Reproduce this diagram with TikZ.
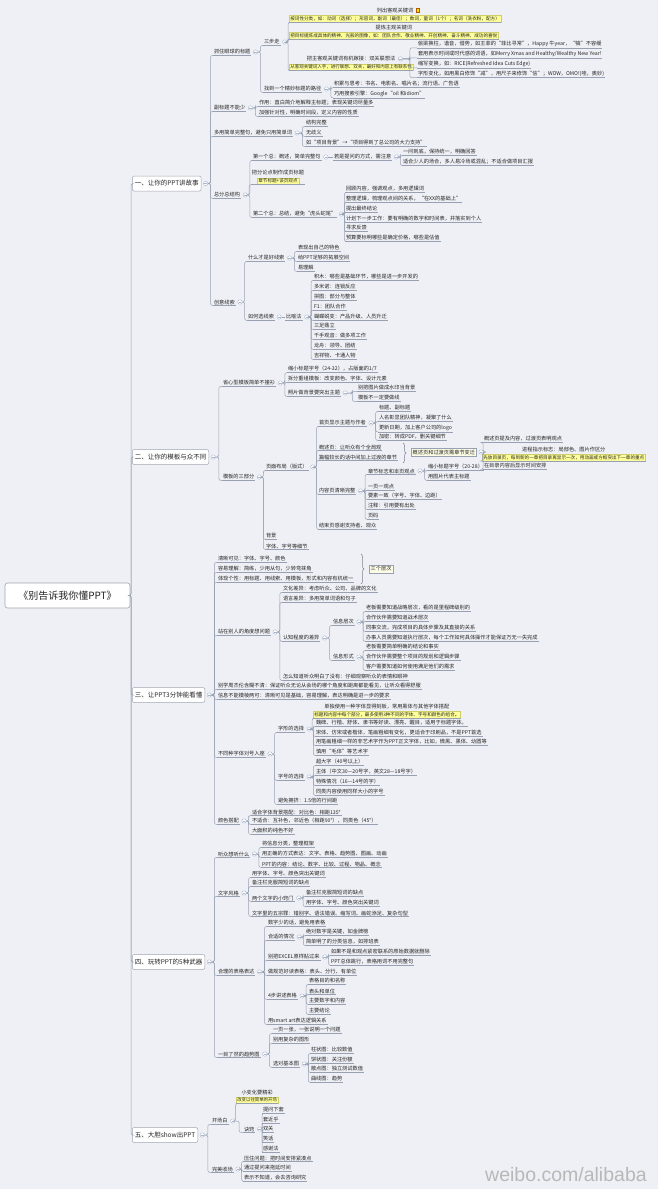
\documentclass[tikz,border=0pt]{standalone}
\usepackage{fontspec}
\setmainfont{Noto Sans CJK SC}
\newfontfamily\wmfont{Liberation Sans}
\usetikzlibrary{calc,fit,decorations.pathreplacing}
\definecolor{bg}{HTML}{EEF0F5}
\definecolor{lc}{HTML}{98A1B2}
\definecolor{icc}{HTML}{A9B6CC}
\definecolor{yl}{HTML}{FFFF99}
\definecolor{yld}{HTML}{CFCF6A}
\definecolor{bd}{HTML}{A0A6B2}
\definecolor{tx}{HTML}{262626}
\definecolor{smf}{HTML}{FDFDE6}
\newcommand\fsz{\fontsize{5.2}{6}\selectfont}
\tikzset{
 tp/.style={anchor=west, inner sep=0.8pt, font=\fsz, text=tx},
 ul/.style={draw=lc, line width=0.5pt},
 cn/.style={draw=lc, line width=0.5pt, rounded corners=2pt},
 icn/.style={circle, draw=icc, fill=white, line width=0.4pt, minimum size=4.4pt, inner sep=0pt,
   path picture={\draw[icc, line width=0.4pt] ([xshift=-1.3pt]path picture bounding box.center) -- ([xshift=1.3pt]path picture bounding box.center);}},
 lab/.style={anchor=west, fill=yl, draw=yld, line width=0.4pt, inner sep=1.1pt, text=tx},
 lone/.style={anchor=west, draw=bd, fill=white, rounded corners=2pt, line width=0.5pt, font=\fontsize{6.5}{7}\selectfont, inner sep=2.5pt, minimum height=15pt, text=tx},
 rootbox/.style={draw=bd, fill=white, rounded corners=2.5pt, line width=0.6pt, font=\fontsize{10}{11}\selectfont, minimum width=125pt, minimum height=25pt, text=tx},
 smb/.style={anchor=west, draw=lc, fill=smf, line width=0.4pt, inner sep=1.5pt, font=\fsz, text=tx},
 brc/.style={draw=lc!80!black, line width=0.5pt, decorate, decoration={brace, amplitude=3pt}},
}
\newcommand\Tp[4]{\node[tp] (#1) at (#2,#3) {#4}; \draw[ul] (#1.south west) -- (#1.south east);}
\newcommand\Ic[1]{\node[icn] (#1-i) at ($(#1.east)+(4.2,0)$) {};}
\newcommand\Cn[2]{\draw[cn] (#1-i.east) -| ($(#1-i.east)!0.5!(#2.south west)$) |- (#2.south west);}
\newcommand\Cs[2]{\draw[cn] (#1-i.east) -- (#2.west);}
\newcommand\Cns[2]{\foreach \cc in {#2}{\Cn{#1}{\cc}}}
\newcommand\Sb[4]{\node[lone] (#1) at (#2,#3) {#4}; \Ic{#1}}
\newcommand\Tl[6]{%
 \node[lab, font=\fontsize{#6}{#6}\selectfont] (#1-l) at (#2,#3) {#5};
 \node[tp, anchor=south] (#1-t) at ($(#1-l.north)+(0,-1.2)$) {#4};
 \node[fit=(#1-l)(#1-t), inner sep=0pt] (#1) {};
 \draw[ul] (#1.south west) -- (#1.south east);}
\begin{document}
\begin{tikzpicture}[x=1pt,y=-1pt]
\fill[bg] (0,0) rectangle (658,1189);
\useasboundingbox (0,0) rectangle (658,1189);

\node[rootbox] (root) at (67.5,595.5) {《别告诉我你懂PPT》};

% ---------------- Section 1
\Sb{s1}{132}{183.5}{一、让你的PPT讲故事}
\Tp{s1a}{213}{52}{抓住眼球的标题}\Ic{s1a}
\Tp{s1a1}{263}{42}{三步走}\Ic{s1a1}
\Tl{s1a1a}{289}{18.5}{列出客观关键词}{按词性分类，如：动词（选择）；形容词，副词（最佳）；数词，量词（1个）；名词（洗衣粉，配方）}{4.6}
\draw[fill=yellow!80!orange, draw=orange!70!black, line width=0.3pt] ($(s1a1a-t.east)+(1.5,-2)$) rectangle +(3.6,3.8);
\Tl{s1a1b}{289}{35.5}{提炼主观关键词}{把目标提炼成具体的精神、光般的图像，如：团队合作、敬业精神、开创精神、奋斗精神、成功的喜悦}{4.6}
\Tl{s1a1c}{289}{67}{把主客观关键词有机嫁接：双关联想法}{从客观关键词入手，进行联想、双关，最好和内容上有联系性}{4.5}
\node[icn] (s1a1c-i) at ($(s1a1c-t.east)+(4.2,0)$) {};
\Tp{s1a1c1}{417}{44}{偷梁换柱，谐音，借势，如王菲的“菲比寻常”，Happy 牛year，“犒”不容缓}
\Tp{s1a1c2}{417}{54}{套用表示时间或时代感的词语，如Merry Xmas and Healthy/Wealthy New Year!}
\Tp{s1a1c3}{417}{64}{缩写变换，如：RICE(Refreshed Idea Cuts Edge)}
\Tp{s1a1c4}{417}{74}{字形变化，如用黑白修饰“减”，用尺子来修饰“信”；WOW，OMO!(哇，奥妙)}
\Tp{s1a2}{263}{89}{找到一个精妙标题的路径}\Ic{s1a2}
\Tp{s1a21}{333}{84}{积累与思考：书名、电影名、唱片名；流行语、广告语}
\Tp{s1a22}{333}{94}{巧用搜索引擎：Google“oil 和idiom”}
\Tp{s1b}{213}{108}{副标题不能少}\Ic{s1b}
\Tp{s1b1}{258}{103}{作用：直白简介地解释主标题；表现关键词尽量多}
\Tp{s1b2}{258}{113}{加强针对性，明确时间段，定义内容的性质}
\Tp{s1c}{213}{133}{多用简单完整句，避免只用简单词}\Ic{s1c}
\Tp{s1c1}{305}{123}{结构完整}
\Tp{s1c2}{305}{133}{无歧义}
\Tp{s1c3}{305}{143}{如“项目背景”→“项目得到了总公司的大力支持”}
\Tp{s1d}{213}{195}{总分总结构}\Ic{s1d}
\Tp{s1d1}{252}{157}{第一个总：概述，简单完整句}\Ic{s1d1}
\Tp{s1d1a}{333}{157}{若是提问的方式，需注意}\Ic{s1d1a}
\Tp{s1d1a1}{402}{152}{一问到底，保持统一，明确回答}
\Tp{s1d1a2}{402}{162}{适合少人的场合，多人易冷场或混乱；不适合做项目汇报}
\Tl{s1d2}{257}{181}{把分论点制作成页标题}{章节标题+该页观点}{4.6}
\Tp{s1d3}{252}{214}{第二个总：总结，避免“虎头蛇尾”}\Ic{s1d3}
\Tp{s1d31}{345}{189}{回顾内容，强调观点，多用逻辑词}
\Tp{s1d32}{345}{199}{整理逻辑，梳理观点间的关系，“在XX的基础上”}
\Tp{s1d33}{345}{209}{提出最终结论}
\Tp{s1d34}{345}{219}{计划下一步工作：要有明确的数字和时间表，并落实到个人}
\Tp{s1d35}{345}{228}{寻求反馈}
\Tp{s1d36}{345}{238}{预算要标明哪些是确定价格，哪些是估值}
\Tp{s1e}{213}{302}{创意线索}\Ic{s1e}
\Tp{s1e1}{247}{258}{什么才是好线索}\Ic{s1e1}
\Tp{s1e11}{297}{248}{表现出自己的特色}
\Tp{s1e12}{297}{258}{给PPT足够的拓展空间}
\Tp{s1e13}{297}{268}{易理解}
\Tp{s1e2}{247}{317}{如何选线索}\Ic{s1e2}
\Tp{s1e2a}{285}{317}{比喻法}\Ic{s1e2a}
\Tp{b1}{313}{277}{积木：哪些是基础环节，哪些是进一步开发的}
\Tp{b2}{313}{287}{多米诺：连锁反应}
\Tp{b3}{313}{297}{拼图：部分与整体}
\Tp{b4}{313}{307}{F1：团队合作}
\Tp{b5}{313}{317}{蝴蝶蜕变：产品升级、人员升迁}
\Tp{b6}{313}{326}{三足鼎立}
\Tp{b7}{313}{336}{千手观音：做多项工作}
\Tp{b8}{313}{346}{龙舟：领导、团结}
\Tp{b9}{313}{356}{吉祥物、卡通人物}

\Cns{s1}{s1a,s1b,s1c,s1d,s1e}
\Cns{s1a}{s1a1,s1a2}
\Cns{s1a1}{s1a1a,s1a1b,s1a1c}
\Cns{s1a1c}{s1a1c1,s1a1c2,s1a1c3,s1a1c4}
\Cns{s1a2}{s1a21,s1a22}
\Cns{s1b}{s1b1,s1b2}
\Cns{s1c}{s1c1,s1c2,s1c3}
\Cns{s1d}{s1d1,s1d2,s1d3}
\Cs{s1d1}{s1d1a}
\Cns{s1d1a}{s1d1a1,s1d1a2}
\Cns{s1d3}{s1d31,s1d32,s1d33,s1d34,s1d35,s1d36}
\Cns{s1e}{s1e1,s1e2}
\Cns{s1e1}{s1e11,s1e12,s1e13}
\Cs{s1e2}{s1e2a}
\Cns{s1e2a}{b1,b2,b3,b4,b5,b6,b7,b8,b9}

% ---------------- Section 2
\Sb{s2}{132}{457}{二、让你的模板与众不同}
\Tp{s2a}{222}{383}{省心型模板简单不撞衫}\Ic{s2a}
\Tp{s2a1}{287}{369}{缩小标题字号（24-32），占版面的1/7}
\Tp{s2a2}{287}{379}{拆分重组模板：改变颜色、字体、设计元素}
\Tp{s2a3}{287}{393}{照片做背景要突出主题}\Ic{s2a3}
\Tp{s2a31}{357}{388}{别把图片做成水印当背景}
\Tp{s2a32}{357}{398}{模板不一定要做线}
\Tp{s2b}{222}{477}{模板的三部分}\Ic{s2b}
\Tp{s2b1}{265}{467}{页面布局（版式）}\Ic{s2b1}
\Tp{s2b1a}{318}{423}{首页显示主题与作者}\Ic{s2b1a}
\Tp{s2b1a1}{378}{408}{标题、副标题}
\Tp{s2b1a2}{378}{418}{人名彰显团队精神，凝聚了什么}
\Tp{s2b1a3}{378}{428}{更新日期，加上客户公司的logo}
\Tp{s2b1a4}{378}{437}{加密：转成PDF，删关键细节}
\Tp{s2b1b}{318}{447}{概述页：让听众有个全局观}
\Tp{s2b1c}{318}{457}{篇幅较长的话中间加上过渡的章节}
\draw[brc] (403,443) -- (403,463);
\node[smb] (s2s) at (411,452) {概述页和过渡页需章节变迁}; \Ic{s2s}
\Tp{s2s1}{483}{439}{概述页提及内容，过渡页表明观点}
\Tl{s2s2}{482}{457.5}{进程指示标志：局部色、图片作区分}{先放目录页，每到新的一章把目录再显示一次，用动画或方框突出下一章的重点}{4.6}
\Tp{s2s3}{483}{466}{在目录内容后显示时间安排}
\Tp{s2b1d}{318}{491}{内容页清晰完整}\Ic{s2b1d}
\Tp{s2b1d1}{367}{471}{章节标志和本页观点}\Ic{s2b1d1}
\Tp{s2b1d11}{427}{467}{缩小标题字号（20-28）}
\Tp{s2b1d12}{427}{477}{用图片代表主标题}
\Tp{s2b1d2}{367}{487}{一页一观点}
\Tp{s2b1d3}{367}{496}{要素一致（字号、字体、边距）}
\Tp{s2b1d4}{367}{506}{注释：引用要有出处}
\Tp{s2b1d5}{367}{516}{页码}
\Tp{s2b1e}{318}{526}{结束页感谢支持者、观众}
\Tp{s2b2}{265}{536}{背景}
\Tp{s2b3}{265}{546}{字体、字号等细节}

\Cns{s2}{s2a,s2b}
\Cns{s2a}{s2a1,s2a2,s2a3}
\Cns{s2a3}{s2a31,s2a32}
\Cns{s2b}{s2b1,s2b2,s2b3}
\Cns{s2b1}{s2b1a,s2b1b,s2b1c,s2b1d,s2b1e}
\Cns{s2b1a}{s2b1a1,s2b1a2,s2b1a3,s2b1a4}
\Cns{s2s}{s2s1,s2s2,s2s3}
\Cns{s2b1d}{s2b1d1,s2b1d2,s2b1d3,s2b1d4,s2b1d5}
\Cns{s2b1d1}{s2b1d11,s2b1d12}

% ---------------- Section 3
\Sb{s3}{132}{695}{三、让PPT3分钟能看懂}
\Tp{s3a}{217}{559}{清晰可见：字体、字号、颜色}
\Tp{s3b}{217}{569}{容易理解：简练，少用从句，少转弯抹角}
\Tp{s3c}{217}{579}{体现个性：用标题、用线索、用模板，形式和内容有机统一}
\draw[brc] (361,554) -- (361,584);
\node[smb] (s3s) at (369,569) {三个层次};
\Tp{s3d}{217}{632}{站在别人的角度想问题}\Ic{s3d}
\Tp{s3d1}{282}{589}{文化差异：考虑听众、公司、品牌的文化}
\Tp{s3d2}{282}{599}{语言差异：多用简单词语和句子}
\Tp{s3d3}{282}{638}{认知程度的差异}\Ic{s3d3}
\Tp{s3d3a}{332}{622}{信息层次}\Ic{s3d3a}
\Tp{s3d3a1}{365}{608}{老板需要知道战略层次，看的是里程碑级别的}
\Tp{s3d3a2}{365}{618}{合作伙伴需要知道战术层次}
\Tp{s3d3a3}{365}{628}{同事交流，完成项目的具体步骤及其直接的关系}
\Tp{s3d3a4}{365}{638}{办事人员需要知道执行层次，每个工作如何具体操作才能保证万无一失完成}
\Tp{s3d3b}{332}{657}{信息形式}\Ic{s3d3b}
\Tp{s3d3b1}{365}{647}{老板需要简单明确的结论和事实}
\Tp{s3d3b2}{365}{657}{合作伙伴需要整个项目的规划和逻辑步骤}
\Tp{s3d3b3}{365}{667}{客户需要知道如何使用满足他们的需求}
\Tp{s3d4}{282}{677}{怎么知道听众明白了没有：仔细观察听众的表情和眼神}
\Tp{s3e}{217}{686}{别学周杰伦含糊不清：保证听众无论从会场的哪个角度和距离都能看见，让听众看得舒服}
\Tp{s3f}{217}{696}{信息不能模棱两可：清晰可见是基础，容易理解，表达明确是进一步的要求}
\Tp{s3g}{217}{754}{不同种字体对号入座}\Ic{s3g}
\Tp{s3g1}{277}{729}{字形的选择}\Ic{s3g1}
\Tl{s3g1a}{313}{714.5}{单独使用一种字体显得刻板，常用黑体与其他字体搭配}{标题和内容中每个部分，最多使用3种不同的字体、字号和颜色的组合。}{4.6}
\Tp{s3g1b}{315}{723}{魏碑、行楷、舒体、隶书等好读、漂亮、醒目，适用于标题字体。}
\Tp{s3g1c}{315}{733}{宋体、仿宋或者楷体，笔画粗细有变化，更适合于印刷品，不是PPT首选}
\Tp{s3g1d}{315}{742}{用笔画粗细一样的非艺术字作为PPT正文字体，比如，微黑、黑体、幼圆等}
\Tp{s3g1e}{315}{752}{慎用“毛体”等艺术字}
\Tp{s3g2}{277}{777}{字号的选择}\Ic{s3g2}
\Tp{s3g2a}{315}{762}{超大字（40号以上）}
\Tp{s3g2b}{315}{772}{主体（中文30—20号字，英文28—18号字）}
\Tp{s3g2c}{315}{782}{特殊情况（16—14号的字）}
\Tp{s3g2d}{315}{792}{同类内容使用同样大小的字号}
\Tp{s3g3}{277}{801}{避免拥挤：1.5倍的行间距}
\Tp{s3h}{217}{821}{颜色搭配}\Ic{s3h}
\Tp{s3h1}{251}{812}{适合字体背景搭配：对比色：相距135°}
\Tp{s3h2}{251}{821}{不适合：互补色，邻近色（相距90°），同类色（45°）}
\Tp{s3h3}{251}{831}{大面积的纯色不好}

\Cns{s3}{s3a,s3b,s3c,s3d,s3e,s3f,s3g,s3h}
\Cns{s3d}{s3d1,s3d2,s3d3,s3d4}
\Cns{s3d3}{s3d3a,s3d3b}
\Cns{s3d3a}{s3d3a1,s3d3a2,s3d3a3,s3d3a4}
\Cns{s3d3b}{s3d3b1,s3d3b2,s3d3b3}
\Cns{s3g}{s3g1,s3g2,s3g3}
\Cns{s3g1}{s3g1a,s3g1b,s3g1c,s3g1d,s3g1e}
\Cns{s3g2}{s3g2a,s3g2b,s3g2c,s3g2d}
\Cns{s3h}{s3h1,s3h2,s3h3}

% ---------------- Section 4
\Sb{s4}{132}{962}{四、玩转PPT的5种武器}
\Tp{s4a}{217}{854}{听众想听什么}\Ic{s4a}
\Tp{s4a1}{261}{844}{将信息分类，整理框架}
\Tp{s4a2}{261}{854}{用正确的方式表达：文字、表格、趋势图、图画、动画}
\Tp{s4a3}{261}{864}{PPT的内容：结论、数字、比较、过程、物品、概念}
\Tp{s4b}{217}{893}{文字风格}\Ic{s4b}
\Tp{s4b1}{251}{874}{用字体、字号、颜色突出关键词}
\Tp{s4b2}{251}{883}{备注栏克服简短词的缺点}
\Tp{s4b3}{251}{898}{两个文字的小窍门}\Ic{s4b3}
\Tp{s4b31}{305}{893}{备注栏克服简短词的缺点}
\Tp{s4b32}{305}{903}{用字体、字号、颜色突出关键词}
\Tp{s4b4}{251}{913}{文字里的五宗罪：错别字、语法错误、缩写词、画蛇添足、复杂句型}
\Tp{s4c}{217}{972}{合理的表格表达}\Ic{s4c}
\Tp{s4c1}{267}{923}{数字少的话，避免用表格}
\Tp{s4c2}{267}{937}{合适的情况}\Ic{s4c2}
\Tp{s4c21}{305}{932}{绝对数字是关键，如金牌榜}
\Tp{s4c22}{305}{942}{简单明了的分类信息，如排班表}
\Tp{s4c3}{267}{957}{别把EXCEL原样贴过来}\Ic{s4c3}
\Tp{s4c31}{330}{952}{如果不是和观点紧密联系的原始数据就删除}
\Tp{s4c32}{330}{962}{PPT总体跳行，表格用词不用完整句}
\Tp{s4c4}{267}{972}{做规范好读表格：表头、分行、有单位}
\Tp{s4c5}{267}{996}{4步讲述表格}\Ic{s4c5}
\Tp{s4c51}{308}{981}{表格目的和名称}
\Tp{s4c52}{308}{991}{表头和单位}
\Tp{s4c53}{308}{1001}{主要数字和内容}
\Tp{s4c54}{308}{1011}{主要结论}
\Tp{s4c6}{267}{1021}{用smart art表达逻辑关系}
\Tp{s4d}{217}{1054}{一目了然的趋势图}\Ic{s4d}
\Tp{s4d1}{272}{1030}{一页一张，一张说明一个问题}
\Tp{s4d2}{272}{1040}{别用复杂的图形}
\Tp{s4d3}{272}{1064}{选对基本图}\Ic{s4d3}
\Tp{s4d31}{310}{1050}{柱状图：比较数值}
\Tp{s4d32}{310}{1060}{饼状图：关注份额}
\Tp{s4d33}{310}{1069}{散点图：独立测试数值}
\Tp{s4d34}{310}{1079}{曲线图：趋势}

\Cns{s4}{s4a,s4b,s4c,s4d}
\Cns{s4a}{s4a1,s4a2,s4a3}
\Cns{s4b}{s4b1,s4b2,s4b3,s4b4}
\Cns{s4b3}{s4b31,s4b32}
\Cns{s4c}{s4c1,s4c2,s4c3,s4c4,s4c5,s4c6}
\Cns{s4c2}{s4c21,s4c22}
\Cns{s4c3}{s4c31,s4c32}
\Cns{s4c5}{s4c51,s4c52,s4c53,s4c54}
\Cns{s4d}{s4d1,s4d2,s4d3}
\Cns{s4d3}{s4d31,s4d32,s4d33,s4d34}

% ---------------- Section 5
\Sb{s5}{132}{1135}{五、大胆show出PPT}
\Tp{s5a}{211}{1121}{开场白}\Ic{s5a}
\Tl{s5a1}{236}{1100}{小变化要精彩}{改变以往简单的开场}{4.4}
\Tp{s5a2}{243}{1129}{诀窍}\Ic{s5a2}
\Tp{s5a21}{262}{1110}{提问下套}
\Tp{s5a22}{262}{1120}{套近乎}
\Tp{s5a23}{262}{1129}{双关}
\Tp{s5a24}{262}{1139}{笑话}
\Tp{s5a25}{262}{1149}{感谢法}
\Tp{s5b}{211}{1169}{完美收场}\Ic{s5b}
\Tp{s5b1}{243}{1158}{压住问题：把时间安排紧凑点}
\Tp{s5b2}{243}{1168}{通过提问来拖延时间}
\Tp{s5b3}{243}{1178}{表示不知道，会去咨询研究}

\Cns{s5}{s5a,s5b}
\Cns{s5a}{s5a1,s5a2}
\Cns{s5a2}{s5a21,s5a22,s5a23,s5a24,s5a25}
\Cns{s5b}{s5b1,s5b2,s5b3}

% ---------------- root connectors
\foreach \ss in {s1,s2,s3,s4,s5}{\draw[cn] (root.east) -| ($(root.east)!0.5!(\ss.west)$) |- (\ss.west);}

\node[anchor=west, inner sep=0pt, font=\wmfont\fontsize{19.5}{20}\selectfont, text=black!28] (wm) at (485,1175) {weibo.com/alibaba};
\end{tikzpicture}
\end{document}
